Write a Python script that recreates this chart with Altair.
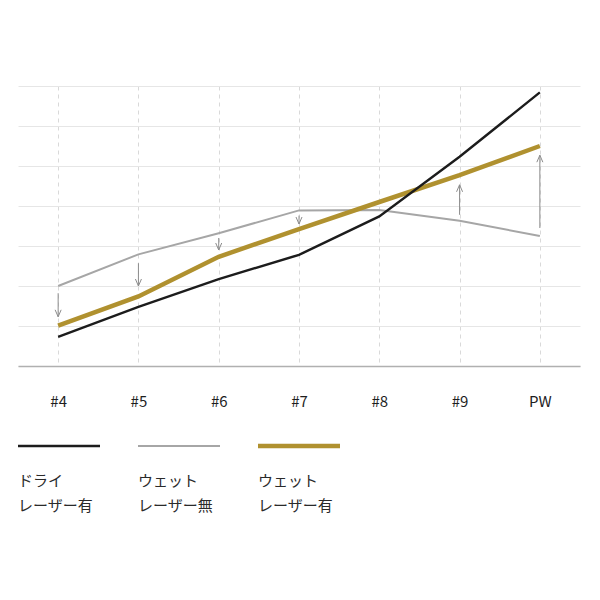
import altair as alt
import pandas as pd

# ---- data ----
clubs = ["#4", "#5", "#6", "#7", "#8", "#9", "PW"]
dry_laser = [0.73, 1.48, 2.17, 2.78, 3.74, 5.23, 6.84]      # ドライ レーザー有
wet_no_laser = [2.0, 2.79, 3.32, 3.89, 3.9, 3.63, 3.25]     # ウェット レーザー無
wet_laser = [1.01, 1.74, 2.73, 3.42, 4.1, 4.77, 5.5]        # ウェット レーザー有

arrow_clubs = ["#4", "#5", "#6", "#7", "#9", "PW"]
arrow_from = [1.82, 2.57, 3.2, 3.76, 3.78, 3.45]
arrow_to = [1.23, 2.0, 2.9, 3.55, 4.53, 5.27]

legend_top = ["ドライ", "ウェット", "ウェット"]
legend_bottom = ["レーザー有", "レーザー無", "レーザー有"]
series_colors = ["#1c1c1c", "#a6a6a6", "#b0912f"]
series_widths = [2.4, 2.0, 4.5]

FONT = "Noto Sans CJK JP"

# ---- main chart ----
X = alt.X(
    "club:N",
    sort=clubs,
    scale=alt.Scale(type="point", padding=0.5, domain=clubs),
    axis=alt.Axis(
        title=None, labelAngle=0, ticks=False, grid=True,
        gridDash=[4, 4], gridColor="#d9d9d9", gridWidth=1,
        domain=True, domainColor="#b0b0b0", domainWidth=1.5,
        labelPadding=28, labelFontSize=15, labelColor="#1e1e1e",
        labelFont=FONT,
    ),
)
Y_AX = alt.Axis(
    title=None, labels=False, ticks=False, domain=False, grid=True,
    gridColor="#e6e6e6", gridWidth=1, values=list(range(8)), minExtent=0,
)
YS = alt.Scale(domain=[0, 7], nice=False)


def line_layer(values, i):
    df = pd.DataFrame({"club": clubs, "value": values})
    return alt.Chart(df).mark_line(
        color=series_colors[i], strokeWidth=series_widths[i]
    ).encode(x=X, y=alt.Y("value:Q", scale=YS, axis=Y_AX))


arrow_df = pd.DataFrame({"club": arrow_clubs, "from": arrow_from, "to": arrow_to})
arrow_df["dir"] = ["down" if t < f else "up" for f, t in zip(arrow_from, arrow_to)]

shafts = alt.Chart(arrow_df).mark_rule(color="#8c8c8c", strokeWidth=1).encode(
    x=X, y=alt.Y("from:Q", scale=YS, axis=Y_AX), y2="to:Q",
)
heads = alt.Chart(arrow_df).mark_point(
    filled=False, color="#8c8c8c", strokeWidth=1, size=196, opacity=1
).encode(
    x=X,
    y=alt.Y("to:Q", scale=YS, axis=Y_AX),
    shape=alt.Shape(
        "dir:N",
        scale=alt.Scale(
            domain=["down", "up"],
            range=["M-0.43,-1L0,0L0.43,-1", "M-0.43,1L0,0L0.43,1"],
        ),
        legend=None,
    ),
)

main = alt.layer(
    line_layer(wet_no_laser, 1),
    shafts,
    heads,
    line_layer(wet_laser, 2),
    line_layer(dry_laser, 0),
).properties(width=562, height=280)

# ---- legend chart ----
keys = [a + " " + b for a, b in zip(legend_top, legend_bottom)]
LX = alt.X(
    "key:N", sort=keys, bandPosition=0,
    scale=alt.Scale(type="band", domain=keys, paddingInner=0, paddingOuter=0),
    axis=None,
)

leg_layers = []
for i, k in enumerate(keys):
    d = pd.DataFrame({"key": [k]})
    leg_layers.append(
        alt.Chart(d).mark_tick(
            orient="horizontal", size=82, thickness=series_widths[i],
            color=series_colors[i], xOffset=-19, opacity=1,
        ).encode(x=LX, y=alt.value(5))
    )

leg_df = pd.DataFrame({"key": keys, "top": legend_top, "bottom": legend_bottom})
text1 = alt.Chart(leg_df).mark_text(
    align="left", baseline="middle", fontSize=15, font=FONT, color="#2a2a2a"
).encode(x=LX, y=alt.value(40), text="top:N")
text2 = alt.Chart(leg_df).mark_text(
    align="left", baseline="middle", fontSize=15, font=FONT, color="#2a2a2a"
).encode(x=LX, y=alt.value(65), text="bottom:N")

legend = alt.layer(*leg_layers, text1, text2).properties(width=360, height=80)

chart = (
    alt.vconcat(main, legend, spacing=32)
    .resolve_scale(x="independent", y="independent")
    .properties(padding={"left": 10, "top": 78, "right": 10, "bottom": 10})
    .configure(font=FONT)
    .configure_view(strokeWidth=0, stroke=None)
)

chart.save("out.html", embed_options={"renderer": "svg", "actions": False})
